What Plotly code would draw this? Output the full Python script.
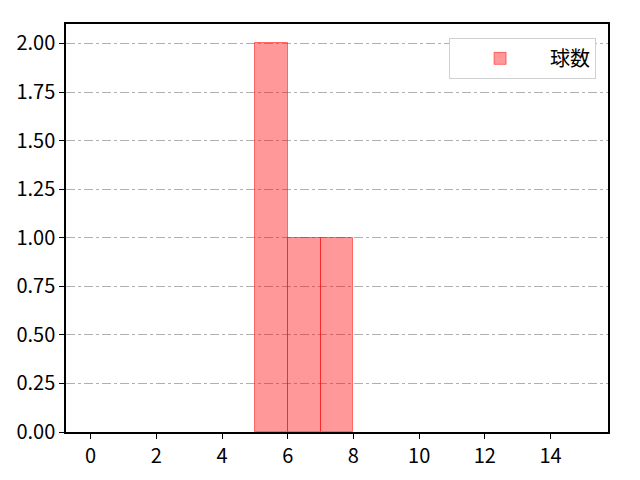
import plotly.graph_objects as go

# histogram bins (pitch counts) and frequencies
bin_edges = [5, 6, 7, 8]
counts = [2, 1, 1]
series_name = "球数"

x_ticks = [0, 2, 4, 6, 8, 10, 12, 14]
y_ticks = [0, 0.25, 0.5, 0.75, 1.0, 1.25, 1.5, 1.75, 2.0]

centers = [(a + b) / 2 for a, b in zip(bin_edges[:-1], bin_edges[1:])]
widths = [b - a for a, b in zip(bin_edges[:-1], bin_edges[1:])]

fig = go.Figure()
fig.add_trace(go.Bar(
    x=centers,
    y=counts,
    width=widths,
    name=series_name,
    marker=dict(color="rgba(255,0,0,0.4)",
                line=dict(color="rgba(255,0,0,0.5)", width=1)),
    showlegend=True,
))

axis_common = dict(
    showline=True, linecolor="black", linewidth=1.5, mirror=True,
    ticks="outside", ticklen=5, tickcolor="black", tickwidth=1.2,
    tickfont=dict(size=20, color="black"),
    zeroline=False, automargin=False,
)

fig.update_layout(
    width=640, height=480,
    margin=dict(l=58, r=40, t=16, b=56),
    plot_bgcolor="white", paper_bgcolor="white",
    font=dict(family="Noto Sans CJK JP", size=20, color="black"),
    bargap=0,
    showlegend=True,
    legend=dict(
        x=0.978, y=0.966, xanchor="right", yanchor="top",
        bgcolor="white", bordercolor="#d0d0d0", borderwidth=1,
        font=dict(size=20), itemwidth=90,
        tracegroupgap=0,
    ),
    xaxis=dict(range=[-0.75, 15.75], tickvals=x_ticks, showgrid=False, **axis_common),
    yaxis=dict(range=[0, 2.1], tickvals=y_ticks, tickformat=".2f",
               showgrid=True, gridcolor="#b0b0b0", griddash="dashdot", gridwidth=1,
               **axis_common),
)

fig.write_html("out.html")
